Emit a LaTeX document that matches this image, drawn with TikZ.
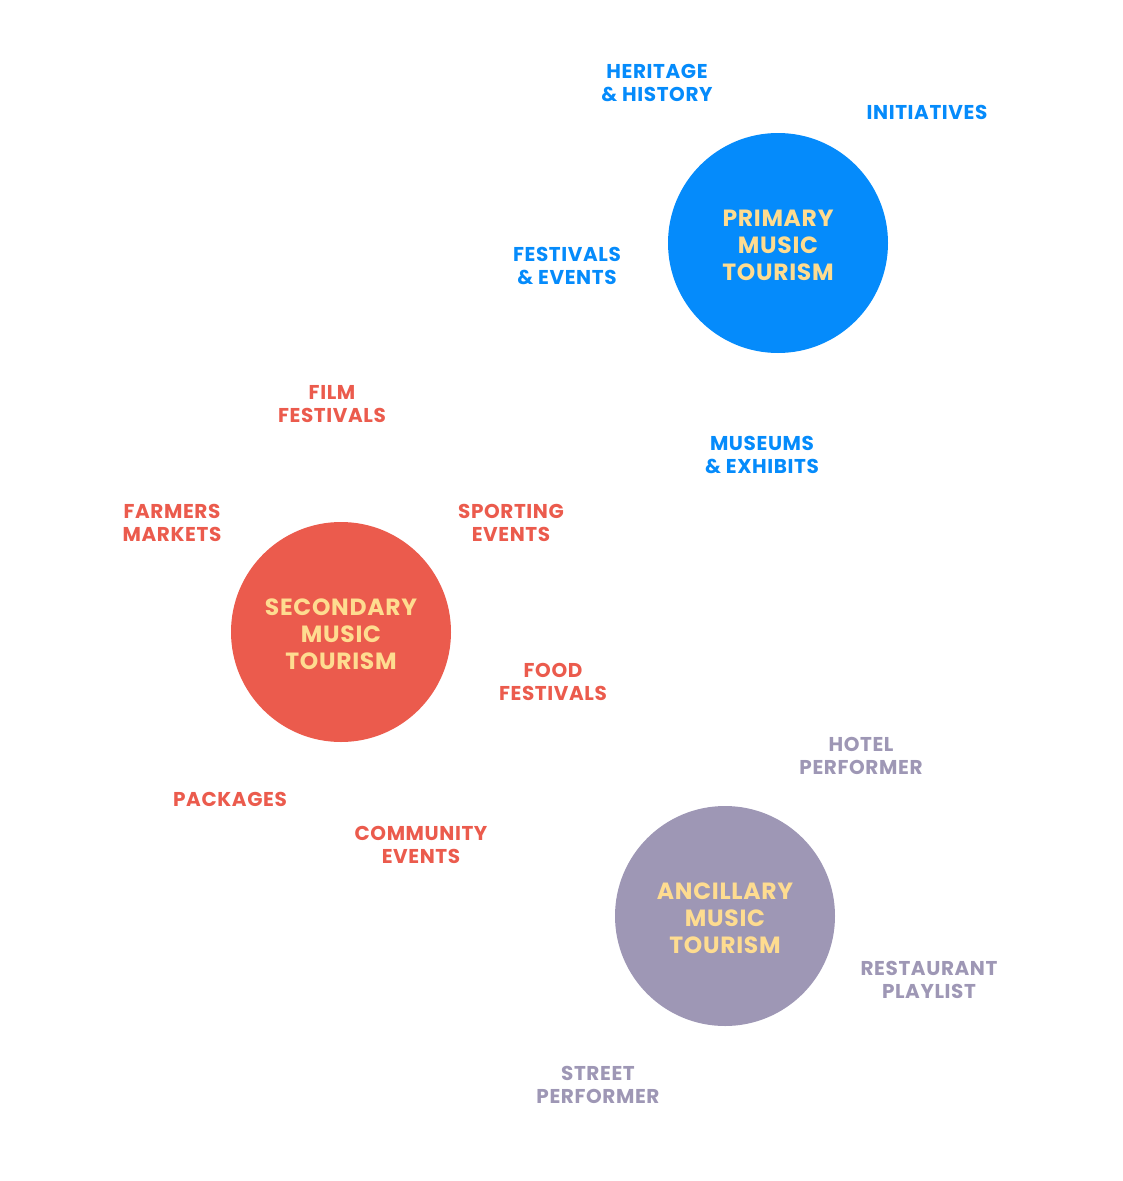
\documentclass[tikz,border=0pt]{standalone}
\usepackage{fontspec}
\setmainfont{Poppins}[LetterSpace=3]
\usepackage{xcolor}
\definecolor{primblue}{HTML}{058BFB}
\definecolor{secred}{HTML}{EB5B4D}
\definecolor{ancpurple}{HTML}{9E97B5}
\definecolor{hubtext}{HTML}{FEDC90}
\usepackage{tikz}

\begin{document}
\begin{tikzpicture}[x=0.75pt, y=-0.75pt,
  hub/.style={circle, minimum size=165pt, inner sep=0pt, align=center,
              text=hubtext, font=\bfseries\fontsize{17.6}{20.25}\selectfont},
  tag/.style={align=center, inner sep=0pt, font=\bfseries\fontsize{15}{17.25}\selectfont}]
  \useasboundingbox (0,0) rectangle (1122,1181);
  % ba vòng tròn
  \fill[primblue] (778,243) circle (165pt/2);
  \fill[secred] (341,632) circle (165pt/2);
  \fill[ancpurple] (725,916) circle (165pt/2);
  \node[hub] (primary) at (778,245) {PRIMARY\\MUSIC\\TOURISM};
  \node[hub] (secondary) at (341,634) {SECONDARY\\MUSIC\\TOURISM};
  \node[hub] (ancillary) at (725,918) {ANCILLARY\\MUSIC\\TOURISM};
  % nhãn xanh
  \foreach \n/\x/\y/\t in {heritage/657/83/{HERITAGE\\\& HISTORY},
                           initiatives/927/112/{INITIATIVES},
                           festivals/567/266/{FESTIVALS\\\& EVENTS},
                           museums/762/455/{MUSEUMS\\\& EXHIBITS}}{
    \node[tag, text=primblue] (\n) at (\x,\y) {\t};
  }
  % nhãn đỏ
  \foreach \n/\x/\y/\t in {film/332/404/{FILM\\FESTIVALS},
                           farmers/172/523/{FARMERS\\MARKETS},
                           sporting/511/523/{SPORTING\\EVENTS},
                           food/553/682/{FOOD\\FESTIVALS},
                           packages/230/799/{PACKAGES},
                           community/421/845/{COMMUNITY\\EVENTS}}{
    \node[tag, text=secred] (\n) at (\x,\y) {\t};
  }
  % nhãn tím
  \foreach \n/\x/\y/\t in {hotel/861/756/{HOTEL\\PERFORMER},
                           restaurant/929/980/{RESTAURANT\\PLAYLIST},
                           street/598/1085/{STREET\\PERFORMER}}{
    \node[tag, text=ancpurple] (\n) at (\x,\y) {\t};
  }
\end{tikzpicture}
\end{document}
